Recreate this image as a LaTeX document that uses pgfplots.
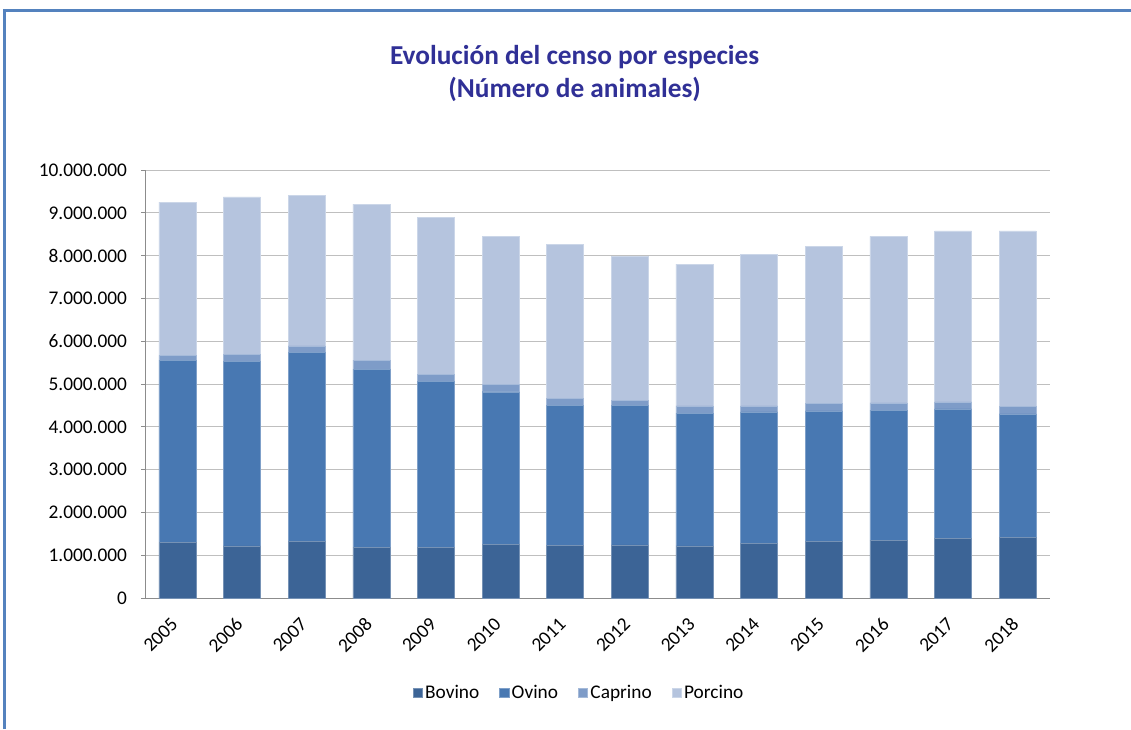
\documentclass[border=0pt]{standalone}
\usepackage{pgfplots}
\pgfplotsset{compat=1.18}
\usepackage{pgfplotstable}
\usepackage{fontspec}
\setmainfont{Carlito}
\definecolor{bov}{RGB}{60,100,150}
\definecolor{ovi}{RGB}{72,120,178}
\definecolor{cap}{RGB}{126,156,200}
\definecolor{por}{RGB}{181,196,222}
\definecolor{ttl}{RGB}{48,48,150}
\definecolor{frame}{RGB}{84,130,190}
\definecolor{grid}{RGB}{140,140,140}
\pgfplotstableread{
x year bovino ovino caprino porcino
0 2005 1300000 4256000 114000 3580000
1 2006 1220000 4310000 165000 3680000
2 2007 1330000 4410000 150000 3510000
3 2008 1190000 4160000 210000 3640000
4 2009 1190000 3880000 160000 3660000
5 2010 1260000 3560000 180000 3450000
6 2011 1230000 3270000 170000 3600000
7 2012 1240000 3260000 120000 3370000
8 2013 1220000 3100000 170000 3310000
9 2014 1280000 3070000 140000 3540000
10 2015 1330000 3040000 170000 3680000
11 2016 1350000 3040000 170000 3890000
12 2017 1400000 3020000 160000 4000000
13 2018 1420000 2880000 170000 4110000
}\censo
\begin{document}
\begin{tikzpicture}
\path[use as bounding box] (0,0) rectangle (848.25pt,-546.75pt);
\draw[frame, line width=2.25pt] (3pt,-546.75pt) -- (3pt,-7.5pt) -- (848.25pt,-7.5pt);
\node[font=\fontsize{20.5}{25}\selectfont\bfseries, text=ttl, align=center] at (431pt,-55pt) {Evolución del censo por especies\\(Número de animales)};
\begin{axis}[
  at={(108.75pt,-448.5pt)}, anchor=south west,
  scale only axis, width=678.75pt, height=321pt,
  ybar stacked, bar width=27.75pt,
  xmin=-0.5, xmax=13.5, ymin=0, ymax=10000000,
  xtick=data,
  xticklabels={2005,2006,2007,2008,2009,2010,2011,2012,2013,2014,2015,2016,2017,2018},
  xticklabel style={xshift=-5.5pt, yshift=-10.5pt, rotate=45, anchor=north east, font=\fontsize{14.5}{16}\selectfont, inner sep=0pt},
  ytick={0,1000000,...,10000000},
  scaled y ticks=false,
  yticklabel style={font=\fontsize{14.5}{16}\selectfont, xshift=-7pt, /pgf/number format/.cd, fixed, 1000 sep={.}, assume math mode=true},
  xmajorgrids=false, ymajorgrids, grid style={grid, line width=0.75pt},
  axis line style={grid, line width=0.75pt},
  axis x line*=bottom, axis y line*=left,
  xtick style={draw=none},
  ytick style={grid, line width=0.75pt},
  major tick length=3pt,
  tick align=outside,
  legend columns=4,
  legend style={at={(0.48,-0.222)}, anchor=center, draw=none, font=\fontsize{14.5}{16}\selectfont, /tikz/every even column/.append style={column sep=13pt}, /tikz/every odd column/.append style={column sep=0pt}},
  legend image code/.code={\fill[#1] (0pt,-3.5pt) rectangle (7pt,3.5pt);},
]
\addplot[fill=bov, draw=bov!70!white, line width=0.3pt] table[x=x, y=bovino] {\censo};
\addplot[fill=ovi, draw=ovi!70!white, line width=0.3pt] table[x=x, y=ovino] {\censo};
\addplot[fill=cap, draw=cap!70!white, line width=0.3pt] table[x=x, y=caprino] {\censo};
\addplot[fill=por, draw=por!70!white, line width=0.3pt] table[x=x, y=porcino] {\censo};
\legend{Bovino, Ovino, Caprino, Porcino}
\end{axis}
\end{tikzpicture}
\end{document}
